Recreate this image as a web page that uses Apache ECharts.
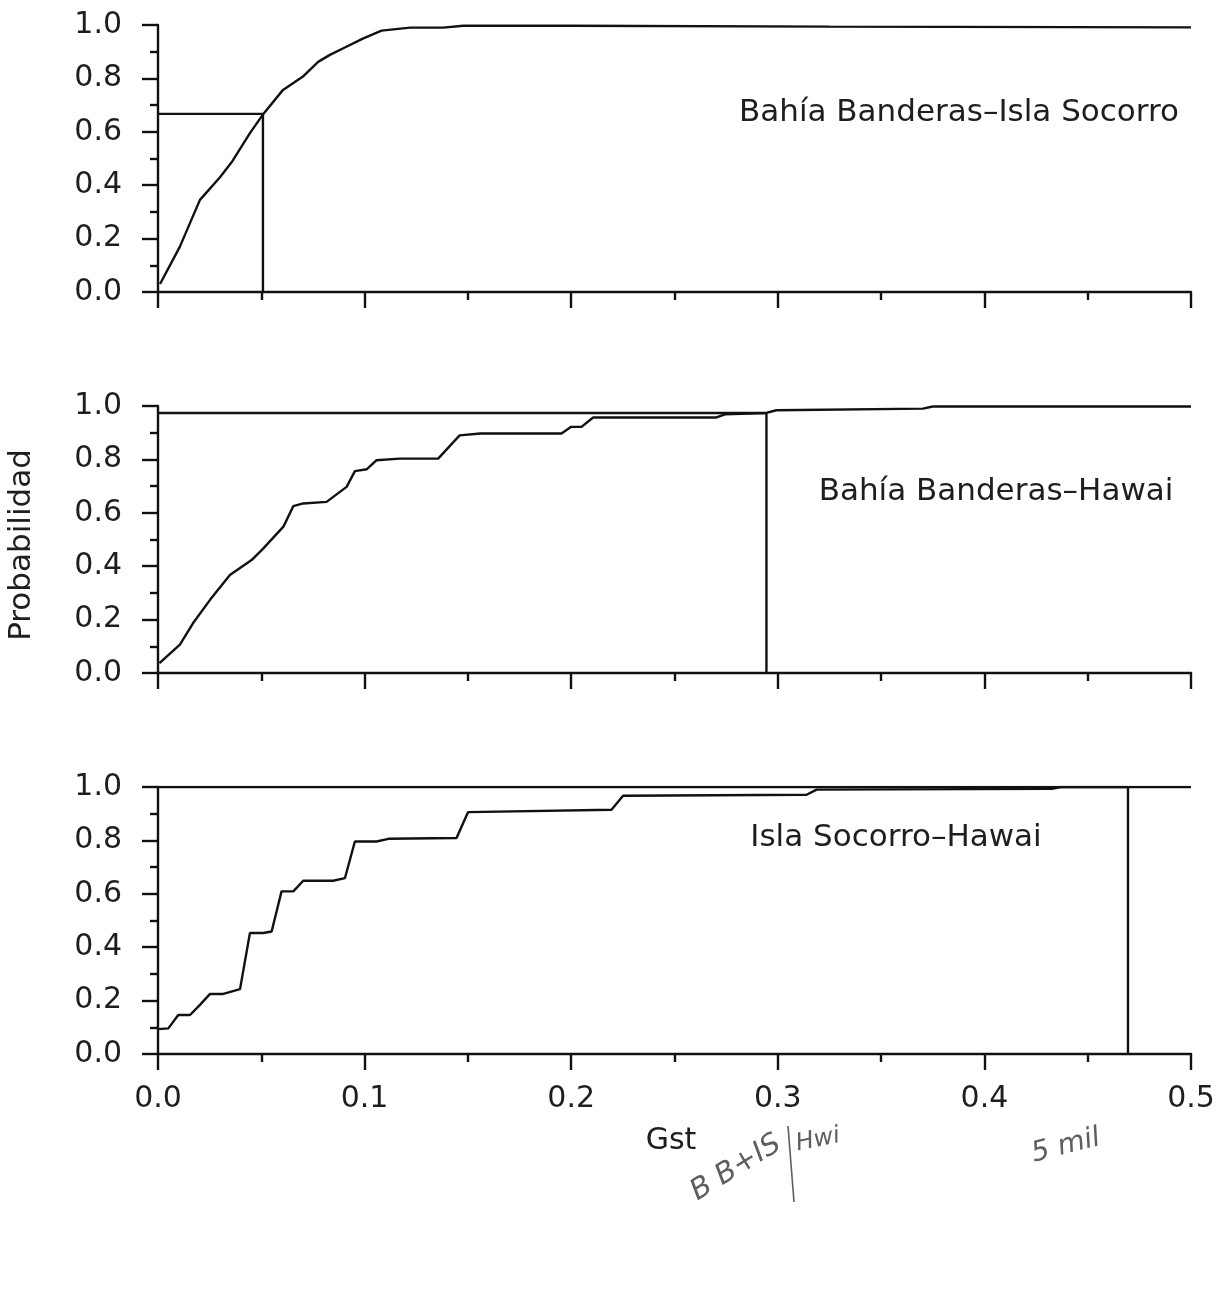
<!DOCTYPE html>
<html>
<head>
<meta charset="utf-8">
<script src="https://cdn.jsdelivr.net/npm/echarts@6/dist/echarts.min.js"></script>
<style>
html,body{margin:0;padding:0;background:#fff;}
#chart{width:1223px;height:1291px;}
</style>
</head>
<body>
<div id="chart"></div>
<script>
// ---- Data ----
var xTicks = [0.0, 0.1, 0.2, 0.3, 0.4, 0.5];
var yTicks = [0.0, 0.2, 0.4, 0.6, 0.8, 1.0];
var panelLabels = ['Bahía Banderas–Isla Socorro', 'Bahía Banderas–Hawai', 'Isla Socorro–Hawai'];

// Cumulative distribution curves [Gst, Probabilidad]
var curveBBIS = [
  [0.001,0.03],[0.0106,0.17],[0.0203,0.345],[0.030,0.43],[0.036,0.49],[0.0445,0.595],
  [0.051,0.667],[0.0605,0.757],[0.070,0.806],[0.0775,0.862],[0.0832,0.888],[0.0897,0.913],
  [0.0994,0.95],[0.1082,0.979],[0.122,0.99],[0.138,0.99],[0.1478,0.997],[0.20,0.997],
  [0.325,0.994],[0.50,0.991]
];
var curveBBH = [
  [0.0007,0.037],[0.0106,0.106],[0.017,0.187],[0.0252,0.274],[0.0348,0.367],[0.0453,0.423],
  [0.051,0.467],[0.0607,0.548],[0.0655,0.625],[0.0703,0.635],[0.0816,0.641],[0.0913,0.697],
  [0.0953,0.756],[0.101,0.763],[0.1058,0.797],[0.117,0.803],[0.1356,0.803],[0.146,0.89],
  [0.156,0.897],[0.1953,0.897],[0.200,0.922],[0.205,0.922],[0.2106,0.957],[0.2703,0.957],
  [0.2744,0.969],[0.2945,0.974],[0.2993,0.984],[0.3703,0.99],[0.375,0.998],[0.50,0.998]
];
var curveISH = [
  [0.000,0.093],[0.005,0.096],[0.0098,0.146],[0.0155,0.146],[0.0203,0.184],[0.0252,0.225],
  [0.0316,0.225],[0.0397,0.243],[0.0445,0.453],[0.051,0.453],[0.055,0.459],[0.0598,0.609],
  [0.0655,0.609],[0.0703,0.649],[0.0848,0.649],[0.0905,0.659],[0.0953,0.796],[0.1058,0.796],
  [0.1115,0.806],[0.1445,0.809],[0.1501,0.906],[0.2195,0.915],[0.2251,0.967],[0.3139,0.971],
  [0.3188,0.99],[0.4327,0.993],[0.437,1.0],[0.50,1.0]
];
// Observed Gst value and its probability for each comparison
var observedGst = [0.0508, 0.2945, 0.4695];
var observedP   = [0.667, 0.974, 1.0];

// ---- Chart ----
var FONT = '"DejaVu Sans", "Liberation Sans", sans-serif';
var INK = '#111';
var TXT = '#1e1e1e';
var LW = 2.4;
var curves = [curveBBIS, curveBBH, curveISH];
var tops = [25, 406, 787];
var H = 267;

var grids = [], xAxes = [], yAxes = [], series = [];
for (var i = 0; i < 3; i++) {
  grids.push({left: 158, top: tops[i], width: 1033, height: H});
  xAxes.push({
    type: 'value', gridIndex: i, min: xTicks[0], max: xTicks[xTicks.length-1], interval: 0.1,
    axisLine: {show: true, onZero: false, lineStyle: {color: INK, width: LW}},
    axisTick: {show: true, length: 16, lineStyle: {color: INK, width: LW}},
    minorTick: {show: true, splitNumber: 2, length: 8, lineStyle: {color: INK, width: LW}},
    splitLine: {show: false},
    axisLabel: {
      show: i === 2, margin: 30, color: TXT, fontSize: 30, fontFamily: FONT,
      formatter: function (v) { return v.toFixed(1); }
    }
  });
  yAxes.push({
    type: 'value', gridIndex: i, min: yTicks[0], max: yTicks[yTicks.length-1], interval: 0.2,
    axisLine: {show: true, lineStyle: {color: INK, width: LW}},
    axisTick: {show: true, length: 16, lineStyle: {color: INK, width: LW}},
    minorTick: {show: true, splitNumber: 2, length: 8, lineStyle: {color: INK, width: LW}},
    splitLine: {show: false},
    axisLabel: {
      margin: 36, color: TXT, fontSize: 30, fontFamily: FONT,
      formatter: function (v) { return v.toFixed(1); }
    }
  });
  series.push({
    type: 'line', xAxisIndex: i, yAxisIndex: i, data: curves[i],
    symbol: 'none', smooth: false, lineStyle: {color: INK, width: LW}, z: 3
  });
  series.push({
    type: 'line', xAxisIndex: i, yAxisIndex: i,
    data: [[0, observedP[i]], [observedGst[i], observedP[i]], [observedGst[i], 0]],
    symbol: 'none', lineStyle: {color: INK, width: LW}, z: 2
  });
}

var labelPos = [[959, 113], [996, 492], [896, 838]];
var graphics = [];
function txt(t, x, y, font, fill, rot) {
  return {
    type: 'text', x: x, y: y, rotation: rot || 0,
    style: {text: t, fill: fill, font: font,
            textAlign: 'center', textVerticalAlign: 'middle', align: 'center', verticalAlign: 'middle'}
  };
}
for (var j = 0; j < 3; j++) {
  graphics.push(txt(panelLabels[j], labelPos[j][0], labelPos[j][1], '31px ' + FONT, TXT));
}
graphics.push(txt('Probabilidad', 22, 545, '31px ' + FONT, TXT, Math.PI / 2));
graphics.push(txt('Gst', 671, 1141, '30px ' + FONT, TXT));
// handwritten notes on the scanned page
var HW = '#5e5e5e';
graphics.push(txt('B B+IS', 736, 1168, 'italic 29px ' + FONT, HW, 0.55));
graphics.push({
  type: 'line', shape: {x1: 788, y1: 1126, x2: 794, y2: 1202},
  style: {stroke: HW, lineWidth: 1.6}
});
graphics.push(txt('Hwi', 818, 1140, 'italic 24px ' + FONT, HW, 0.2));
graphics.push(txt('5 mil', 1066, 1146, 'italic 28px ' + FONT, HW, 0.25));

var chart = echarts.init(document.getElementById('chart'), null, {renderer: 'canvas'});
chart.setOption({
  backgroundColor: '#ffffff',
  animation: false,
  grid: grids,
  xAxis: xAxes,
  yAxis: yAxes,
  series: series,
  graphic: {elements: graphics}
});
</script>
</body>
</html>
